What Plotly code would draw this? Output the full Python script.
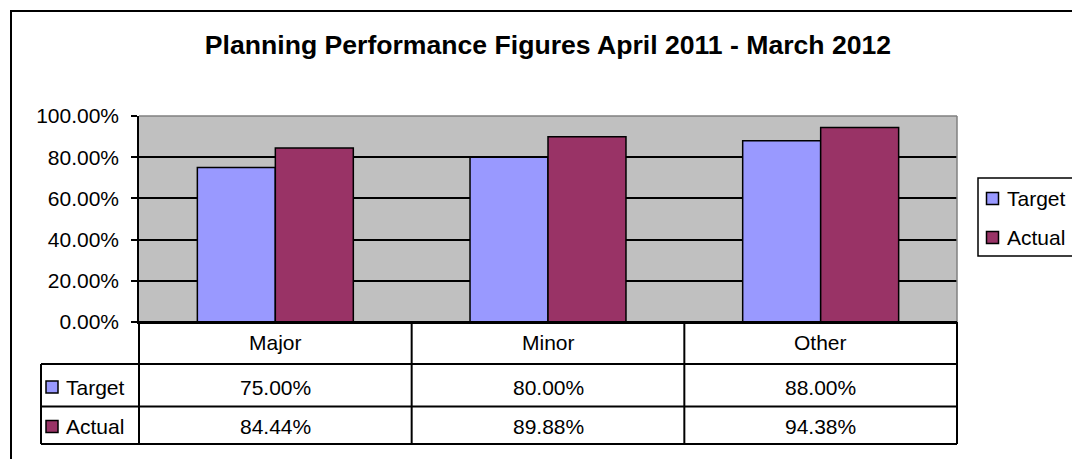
import plotly.graph_objects as go

categories = ["Major", "Minor", "Other"]
target = [0.75, 0.80, 0.88]
actual = [0.8444, 0.8988, 0.9438]
series_names = ["Target", "Actual"]
series_colors = ["#9999FF", "#993366"]
title_text = "Planning Performance Figures April 2011 - March 2012"

W, H = 1080, 459
OFF = 8  # page body margin offset
def px(x): return (x - OFF) / W
def py(y): return 1 - (y - OFF) / H

PL, PR, PT, PB = 139, 957, 116, 322
FONT = "Liberation Sans, Arial, sans-serif"
FS = 21

fig = go.Figure()
for name, vals, col in zip(series_names, [target, actual], series_colors):
    fig.add_trace(go.Bar(x=categories, y=vals, name=name,
                         marker=dict(color=col, line=dict(color="black", width=1.5))))

fig.update_layout(
    width=W, height=H,
    margin=dict(l=0, r=0, t=0, b=0, autoexpand=False),
    paper_bgcolor="white", plot_bgcolor="#C0C0C0",
    barmode="group", bargap=0.428, bargroupgap=0,
    font=dict(family=FONT, size=FS, color="black"),
    title=dict(text="<b>" + title_text + "</b>", x=px(548), xanchor="center",
               y=py(45), yanchor="middle", font=dict(size=26.6, family=FONT)),
    xaxis=dict(domain=[px(PL), px(PR)], showticklabels=False, ticks="",
               showline=True, linecolor="black", linewidth=2, showgrid=False,
               automargin=False),
    yaxis=dict(domain=[py(PB), py(PT)], range=[0, 1], dtick=0.2, tickformat=".2%",
               ticks="outside", ticklen=6, tickcolor="black", tickwidth=1.5,
               showline=True, ticklabelstandoff=8,
               linecolor="black", linewidth=1.5, showgrid=True, gridcolor="black",
               gridwidth=1.5, zeroline=False, tickfont=dict(size=FS), automargin=False),
    showlegend=False,
)

shapes = []
# outer border
shapes.append(dict(type="rect", xref="paper", yref="paper", x0=px(11), y0=py(480),
                   x1=px(1100), y1=py(11), line=dict(color="black", width=2)))
# plot area top/right border (gray)
shapes.append(dict(type="line", xref="paper", yref="paper", x0=px(PL), x1=px(PR), y0=py(PT), y1=py(PT),
                   line=dict(color="#808080", width=1.5)))
shapes.append(dict(type="line", xref="paper", yref="paper", x0=px(PR), x1=px(PR), y0=py(PT), y1=py(PB),
                   line=dict(color="#808080", width=1.5)))
# data table grid
row_y = [PB, 364, 406.5, 444]
for i, yy in enumerate(row_y):
    x0 = PL if i == 0 else 41
    shapes.append(dict(type="line", xref="paper", yref="paper", x0=px(x0), x1=px(PR),
                       y0=py(yy), y1=py(yy), line=dict(color="black", width=2)))
ncat = len(categories)
cw = (PR - PL) / ncat
for k in range(ncat + 1):
    xx = PL + k * cw
    shapes.append(dict(type="line", xref="paper", yref="paper", x0=px(xx), x1=px(xx),
                       y0=py(PB), y1=py(444), line=dict(color="black", width=2)))
shapes.append(dict(type="line", xref="paper", yref="paper", x0=px(41), x1=px(41),
                   y0=py(364), y1=py(444), line=dict(color="black", width=2)))

annotations = []
for c in categories:
    annotations.append(dict(x=c, xref="x", y=py(342), yref="paper", text=c, showarrow=False,
                            font=dict(size=FS), xanchor="center", yanchor="middle"))
row_centers = [387, 426.5]
for name, vals, col, yc in zip(series_names, [target, actual], series_colors, row_centers):
    shapes.append(dict(type="rect", xref="paper", yref="paper", x0=px(46), x1=px(58),
                       y0=py(yc + 6), y1=py(yc - 6), fillcolor=col,
                       line=dict(color="black", width=1.5)))
    annotations.append(dict(x=px(64), xref="paper", y=py(yc), yref="paper", text=name,
                            showarrow=False, xanchor="left", yanchor="middle", font=dict(size=FS)))
    for c, v in zip(categories, vals):
        annotations.append(dict(x=c, xref="x", y=py(yc), yref="paper", text=f"{v*100:.2f}%",
                                showarrow=False, xanchor="center", yanchor="middle",
                                font=dict(size=FS)))

# legend (Excel-style key box)
LX0, LX1, LY0, LY1 = 978, 1075, 178, 256
shapes.append(dict(type="rect", xref="paper", yref="paper", x0=px(LX0), x1=px(LX1),
                   y0=py(LY1), y1=py(LY0), fillcolor="white", line=dict(color="black", width=1.5)))
for name, col, yc in zip(series_names, series_colors, [198.5, 237.5]):
    shapes.append(dict(type="rect", xref="paper", yref="paper", x0=px(986.5), x1=px(998.5),
                       y0=py(yc + 6), y1=py(yc - 6), fillcolor=col,
                       line=dict(color="black", width=1.5)))
    annotations.append(dict(x=px(1005), xref="paper", y=py(yc), yref="paper", text=name,
                            showarrow=False, xanchor="left", yanchor="middle", font=dict(size=FS)))

fig.update_layout(shapes=shapes, annotations=annotations)
fig.write_html("out.html")
